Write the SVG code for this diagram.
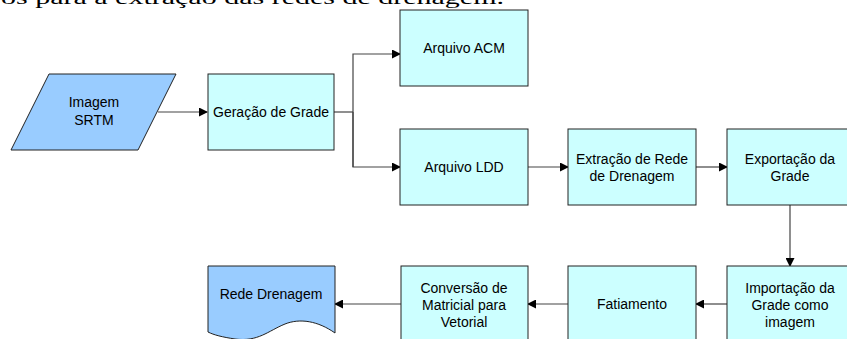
<svg xmlns="http://www.w3.org/2000/svg" width="847" height="339" viewBox="0 0 847 339">
<defs>
<style>
.box{fill:#CCFFFF;stroke:#222;stroke-width:1}
.io{fill:#99CCFF;stroke:#222;stroke-width:1}
.t{font-family:"Liberation Sans",Arial,sans-serif;font-size:14px;fill:#000;text-anchor:middle}
.c{fill:none;stroke:#444;stroke-width:1.2}
.cap{font-family:"Liberation Serif","Times New Roman",serif;font-size:19px;fill:#000}
</style>
<marker id="ah" markerWidth="9" markerHeight="9" refX="8" refY="4.5" orient="auto" markerUnits="userSpaceOnUse">
<path d="M0,0 L9,4.5 L0,9 Z" fill="#000"/>
</marker>
</defs>
<rect width="847" height="339" fill="#fff"/>
<text class="cap" x="1" y="4" textLength="503" lengthAdjust="spacingAndGlyphs">os para a extração das redes de drenagem.</text>
<g id="connectors">
<line class="c" x1="158" y1="112" x2="207" y2="112" marker-end="url(#ah)"/>
<polyline class="c" points="334,112 353,112"/>
<polyline class="c" points="353,167 353,54 400,54" marker-end="url(#ah)"/>
<polyline class="c" points="353,112 353,167 400,167" marker-end="url(#ah)"/>
<line class="c" x1="528" y1="167" x2="568" y2="167" marker-end="url(#ah)"/>
<line class="c" x1="696" y1="167" x2="727" y2="167" marker-end="url(#ah)"/>
<line class="c" x1="790" y1="205" x2="790" y2="266" marker-end="url(#ah)"/>
<line class="c" x1="727" y1="304" x2="696" y2="304" marker-end="url(#ah)"/>
<line class="c" x1="568" y1="304" x2="528" y2="304" marker-end="url(#ah)"/>
<line class="c" x1="401" y1="304" x2="335" y2="304" marker-end="url(#ah)"/>
</g>
<g id="imagem-srtm">
<polygon class="io" points="49,74 176,74 138,150 11,150"/>
<text class="t" x="94" y="107">Imagem</text>
<text class="t" x="94" y="125">SRTM</text>
</g>
<g id="geracao-grade">
<rect class="box" x="208" y="74" width="126" height="76"/>
<text class="t" x="271" y="117">Geração de Grade</text>
</g>
<g id="arquivo-acm">
<rect class="box" x="400" y="10" width="128" height="76"/>
<text class="t" x="464" y="53">Arquivo ACM</text>
</g>
<g id="arquivo-ldd">
<rect class="box" x="400" y="129" width="128" height="76"/>
<text class="t" x="464" y="172">Arquivo LDD</text>
</g>
<g id="extracao">
<rect class="box" x="568" y="129" width="128" height="76"/>
<text class="t" x="632" y="164">Extração de Rede</text>
<text class="t" x="632" y="181">de Drenagem</text>
</g>
<g id="exportacao">
<rect class="box" x="727" y="129" width="128" height="76"/>
<text class="t" x="790" y="164">Exportação da</text>
<text class="t" x="790" y="181">Grade</text>
</g>
<g id="importacao">
<rect class="box" x="727" y="266" width="128" height="90"/>
<text class="t" x="790" y="293">Importação da</text>
<text class="t" x="790" y="310">Grade como</text>
<text class="t" x="790" y="327">imagem</text>
</g>
<g id="fatiamento">
<rect class="box" x="568" y="266" width="128" height="90"/>
<text class="t" x="632" y="309">Fatiamento</text>
</g>
<g id="conversao">
<rect class="box" x="401" y="266" width="127" height="90"/>
<text class="t" x="464" y="293">Conversão de</text>
<text class="t" x="464" y="310">Matricial para</text>
<text class="t" x="464" y="327">Vetorial</text>
</g>
<g id="rede-drenagem">
<path class="io" d="M208,266 H335 V333 C318,321 300,318 285,324 C268,331 258,342 235,339 C222,337 214,335 208,332 Z"/>
<text class="t" x="271" y="299">Rede Drenagem</text>
</g>
</svg>
